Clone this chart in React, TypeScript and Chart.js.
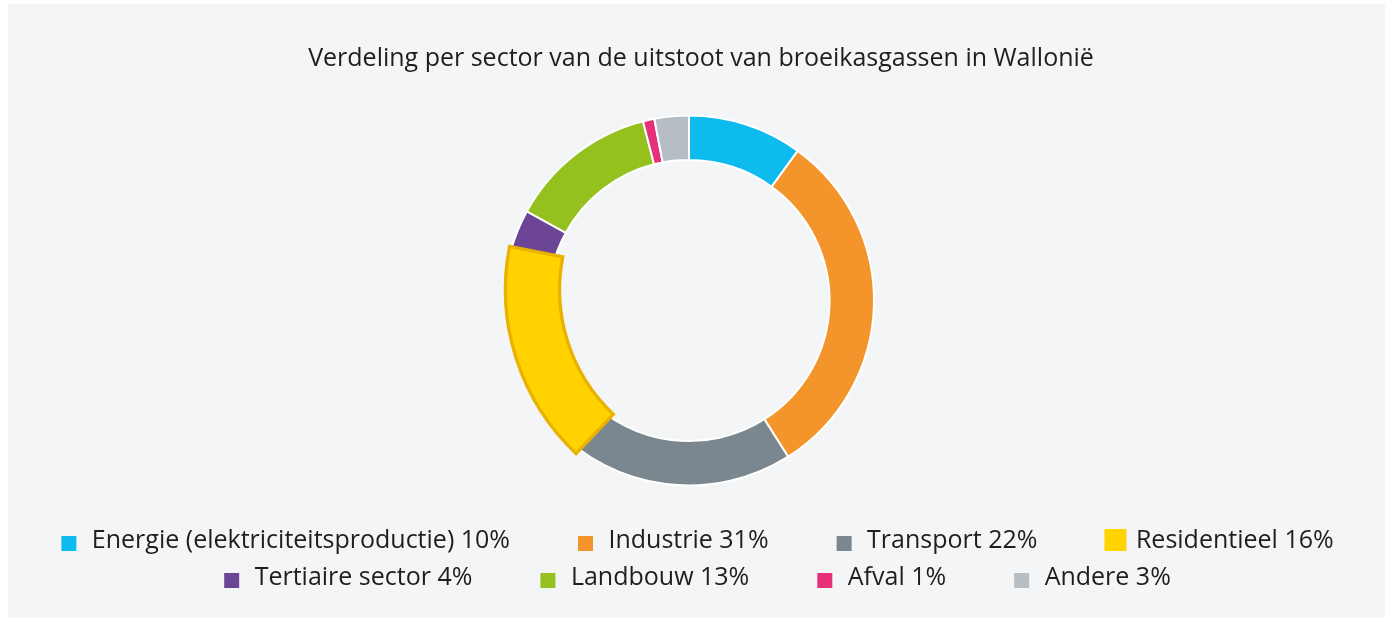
import { useEffect, useRef } from 'react';
import { Chart, registerables } from 'chart.js';

Chart.register(...registerables);

const TITLE = 'Verdeling per sector van de uitstoot van broeikasgassen in Wallonië';
const sectors = [
  'Energie (elektriciteitsproductie)',
  'Industrie',
  'Transport',
  'Residentieel',
  'Tertiaire sector',
  'Landbouw',
  'Afval',
  'Andere',
];
const shares = [10, 31, 22, 16, 4, 13, 1, 3];
const sectorColors = ['#0ebbee', '#f3952a', '#7a878e', '#ffd200', '#6c4597', '#95c11f', '#e6317a', '#b6bec4'];
const highlightIndex = 3;
const highlightBorder = '#e9b200';

const FONT = '"Open Sans", "Noto Sans", sans-serif';
const TITLE_FS = 25;
const LEGEND_FS = 25;
const SWATCH_W = 74; // legend box width used by the layout
const SWATCH_PAD = 5; // extra image margin on each side
const SWATCH_H = 32;

// horizontal fine-tuning of the layout boxes (px)
const TITLE_DX = 4.5;
const DOUGHNUT_DX = -7.5;
const LEGEND_DX = -27;

// emphasised (hovered) slice transform
const HL_SCALE = 1.22;
const HL_ROTATE = (-3.4 * Math.PI) / 180;
const HL_SHIFT_X = 10.7;
const HL_SHIFT_Y = 9.3;

function makeSwatch(color: string, big: boolean) {
  const c = document.createElement('canvas');
  c.width = SWATCH_W + 2 * SWATCH_PAD;
  c.height = SWATCH_H;
  const ctx = c.getContext('2d')!;
  const bottom = 26;
  const size = big ? 22 : 15;
  const right = SWATCH_PAD + SWATCH_W + (big ? 3 : -3);
  ctx.fillStyle = color;
  ctx.fillRect(right - size, bottom - size, size, size);
  return c;
}

const shiftPlugin = {
  id: 'shiftAreas',
  afterLayout(chart: any) {
    const a = chart.chartArea;
    a.left += DOUGHNUT_DX;
    a.right += DOUGHNUT_DX;
    const lg = chart.legend;
    if (lg) {
      lg.left += LEGEND_DX;
      lg.right += LEGEND_DX;
    }
    const tt = chart.titleBlock;
    if (tt) {
      tt.left += TITLE_DX;
      tt.right += TITLE_DX;
    }
  },
};

const highlightPlugin = {
  id: 'highlightSlice',
  afterDatasetsUpdate(chart: any) {
    const el: any = chart.getDatasetMeta(0).data[highlightIndex];
    if (el && !el.__origDraw) {
      el.__origDraw = el.draw;
      el.draw = () => {};
    }
  },
  afterDatasetsDraw(chart: any) {
    const el: any = chart.getDatasetMeta(0).data[highlightIndex];
    if (!el || !el.__origDraw) return;
    const c = el.getCenterPoint();
    const ctx = chart.ctx;
    ctx.save();
    ctx.translate(c.x + HL_SHIFT_X, c.y + HL_SHIFT_Y);
    ctx.rotate(HL_ROTATE);
    ctx.scale(HL_SCALE, HL_SCALE);
    ctx.translate(-c.x, -c.y);
    el.__origDraw.call(el, ctx);
    ctx.restore();
  },
};

export default function App() {
  const ref = useRef<HTMLCanvasElement>(null);
  useEffect(() => {
    const swatches = sectorColors.map((c, i) => makeSwatch(c, i === highlightIndex));
    const chart = new Chart(ref.current!, {
      type: 'doughnut',
      data: {
        labels: sectors,
        datasets: [
          {
            data: shares,
            backgroundColor: sectorColors,
            borderColor: sectorColors.map((_, i) => (i === highlightIndex ? highlightBorder : '#ffffff')),
            borderWidth: sectorColors.map((_, i) => (i === highlightIndex ? 2.7 : 2)),
            borderJoinStyle: 'miter',
            hoverOffset: 0,
          } as any,
        ],
      },
      options: {
        responsive: false,
        animation: false,
        events: [],
        cutout: '76%',
        radius: 185,
        layout: { padding: { left: 0, right: 0, top: 0, bottom: 17.5 } },
        plugins: {
          tooltip: { enabled: false },
          title: {
            display: true,
            text: TITLE,
            color: '#1e1e1e',
            font: { family: FONT, size: TITLE_FS, weight: 'normal' },
            padding: { top: 40, bottom: 10.5 },
          },
          legend: {
            display: true,
            position: 'bottom',
            labels: {
              usePointStyle: true,
              pointStyleWidth: SWATCH_W,
              padding: 12,
              color: '#1e1e1e',
              font: { family: FONT, size: LEGEND_FS },
              generateLabels: () =>
                sectors.map((s, i) => ({
                  text: `${s} ${shares[i]}%`,
                  fillStyle: sectorColors[i],
                  strokeStyle: sectorColors[i],
                  lineWidth: 0,
                  pointStyle: swatches[i] as any,
                  hidden: false,
                  index: i,
                  fontColor: '#1e1e1e',
                })),
            },
          },
        },
      } as any,
      plugins: [shiftPlugin, highlightPlugin],
    });
    return () => chart.destroy();
  }, []);
  return (
    <div
      style={{
        position: 'absolute',
        left: 8,
        top: 4,
        width: 1377,
        height: 614,
        background: '#f4f5f7',
      }}
    >
      <canvas ref={ref} width={1377} height={614} style={{ display: 'block' }} />
    </div>
  );
}
